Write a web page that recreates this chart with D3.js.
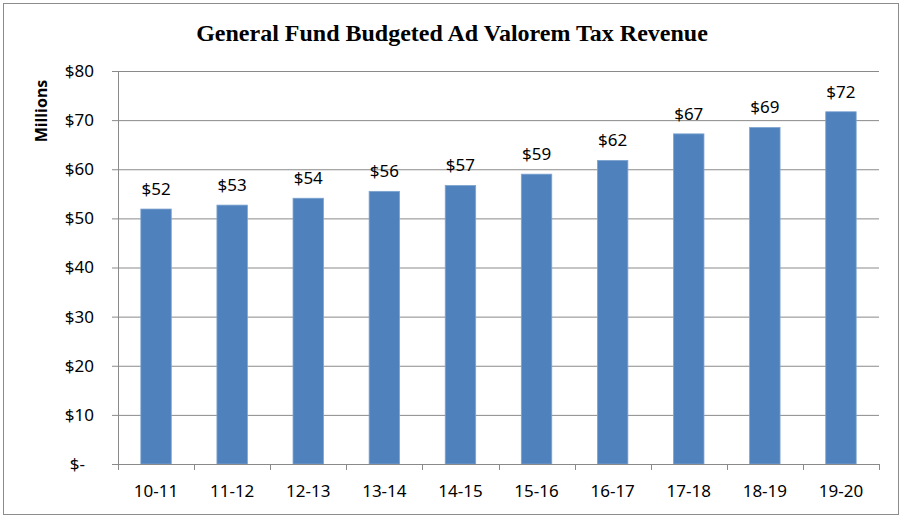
<!DOCTYPE html>
<html>
<head>
<meta charset="utf-8">
<script src="https://cdn.jsdelivr.net/npm/d3@7"></script>
<style>
  body { margin: 0; background: #fff; }
</style>
</head>
<body>
<svg id="chart"></svg>
<script>
const width = 901;
const height = 516;

const categories = ['10-11', '11-12', '12-13', '13-14', '14-15', '15-16', '16-17', '17-18', '18-19', '19-20'];
const revenue = [51.9, 52.7, 54.1, 55.5, 56.7, 59.0, 61.8, 67.2, 68.5, 71.7];
const yTicks = [0, 10, 20, 30, 40, 50, 60, 70, 80];

const margin = { top: 71, right: 22, bottom: 52, left: 118 };
const labelFont = '"Noto Sans", "Open Sans", sans-serif';

const svg = d3.select('#chart')
  .attr('width', width)
  .attr('height', height);

// outer frame
svg.append('rect')
  .attr('x', 3.5).attr('y', 3.5)
  .attr('width', width - 6).attr('height', height - 5)
  .attr('fill', '#fff')
  .attr('stroke', '#8c8c8c');

const x = d3.scaleBand()
  .domain(categories)
  .range([margin.left, width - margin.right])
  .paddingInner(0.6)
  .paddingOuter(0.3);

const y = d3.scaleLinear()
  .domain([0, 80])
  .range([height - margin.bottom, margin.top]);

// gridlines + y axis
const yAxis = svg.append('g')
  .attr('transform', `translate(${margin.left},0)`)
  .call(d3.axisLeft(y)
    .tickValues(yTicks)
    .tickSize(-(width - margin.right - margin.left))
    .tickSizeOuter(0)
    .tickPadding(24)
    .tickFormat(d => d === 0 ? '$-' : '$' + d));
yAxis.select('.domain').remove();
yAxis.selectAll('.tick line')
  .attr('x1', -6)
  .attr('stroke', '#8a8a8a');
yAxis.selectAll('text')
  .attr('fill', '#000')
  .style('font-family', labelFont)
  .style('font-size', '17px')
  .attr('dx', d => d === 0 ? -9 : 0);

// vertical axis line
svg.append('line')
  .attr('x1', margin.left + 0.5).attr('x2', margin.left + 0.5)
  .attr('y1', margin.top).attr('y2', height - margin.bottom)
  .attr('stroke', '#8a8a8a');

// bars
svg.append('g')
  .selectAll('rect')
  .data(revenue)
  .enter().append('rect')
  .attr('x', (d, i) => x(categories[i]))
  .attr('y', d => y(d))
  .attr('width', x.bandwidth())
  .attr('height', d => y(0) - y(d))
  .attr('fill', '#4f81bd')
  .attr('stroke', '#7da3d0')
  .attr('stroke-width', 0.8);

// value labels
svg.append('g')
  .selectAll('text')
  .data(revenue)
  .enter().append('text')
  .attr('x', (d, i) => x(categories[i]) + x.bandwidth() / 2)
  .attr('y', d => y(d) - 14)
  .attr('text-anchor', 'middle')
  .style('font-family', labelFont)
  .style('font-size', '17px')
  .text(d => '$' + Math.round(d));

// x axis
const xAxis = svg.append('g')
  .attr('transform', `translate(0,${height - margin.bottom})`)
  .call(d3.axisBottom(x).tickSize(0).tickPadding(21));
xAxis.select('.domain').attr('stroke', '#8a8a8a');
xAxis.selectAll('text')
  .attr('fill', '#000')
  .style('font-family', labelFont)
  .style('font-size', '17px');

// tick marks between categories
const bounds = d3.range(categories.length + 1).map(i => margin.left + i * (width - margin.right - margin.left) / categories.length);
svg.append('g')
  .selectAll('line')
  .data(bounds)
  .enter().append('line')
  .attr('x1', d => Math.round(d) + 0.5).attr('x2', d => Math.round(d) + 0.5)
  .attr('y1', height - margin.bottom)
  .attr('y2', height - margin.bottom + 6)
  .attr('stroke', '#8a8a8a');

// title
svg.append('text')
  .attr('x', 452)
  .attr('y', 41)
  .attr('text-anchor', 'middle')
  .style('font-family', '"Liberation Serif", "Times New Roman", serif')
  .style('font-weight', 'bold')
  .style('font-size', '24px')
  .text('General Fund Budgeted Ad Valorem Tax Revenue');

// y axis title
svg.append('text')
  .attr('transform', 'translate(47,111) rotate(-90)')
  .attr('text-anchor', 'middle')
  .style('font-family', labelFont)
  .style('font-weight', 'bold')
  .style('font-size', '16px')
  .text('Millions');
</script>
</body>
</html>
